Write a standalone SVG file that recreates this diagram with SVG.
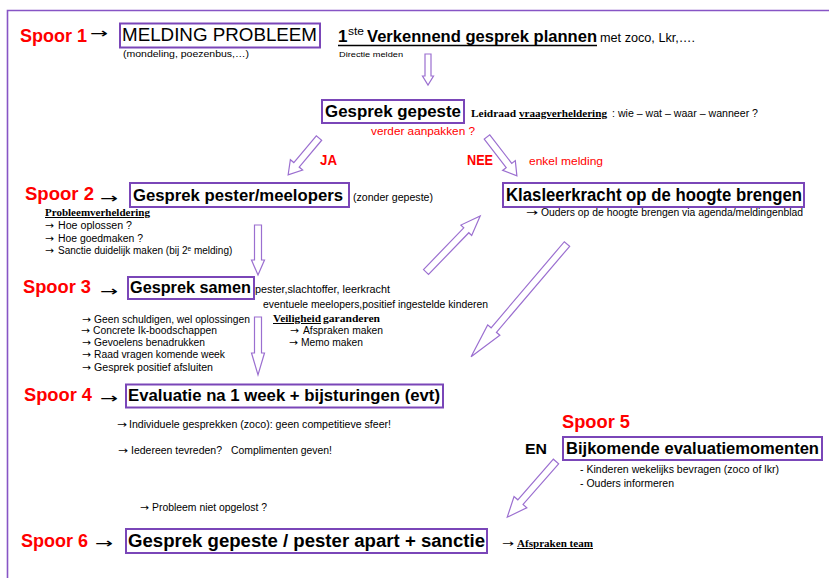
<svg xmlns="http://www.w3.org/2000/svg" width="829" height="578" viewBox="0 0 829 578">
<style>
.spoor{font-family:"Liberation Sans",Arial,sans-serif;font-weight:bold;font-size:18px;fill:#ff0000}
.red{font-family:"Liberation Sans",Arial,sans-serif;fill:#ff0000}
.box{fill:#ffffff;stroke:#7a46b8;stroke-width:2}
.title{font-family:"Liberation Sans",Arial,sans-serif;font-weight:bold;font-size:17px;fill:#000000}
.sm{font-family:"Liberation Sans",Arial,sans-serif;font-size:10px;fill:#000000}
.ser{font-family:"Liberation Serif","Times New Roman",serif;font-weight:bold;font-size:10px;fill:#000000}
.ptr{font-family:"DejaVu Sans",sans-serif;font-size:14px;fill:#000000}
.sa{font-family:"DejaVu Sans",sans-serif;font-size:10px;fill:#000000}
.arr{fill:#ffffff;stroke:#9b6fd0;stroke-width:1.2;stroke-linejoin:miter}
.ul{text-decoration:underline}
</style>

<path d="M7.5,578 V10.5 H829" fill="none" stroke="#8755c5" stroke-width="1.6"/>

<g id="connectors">
  <path class="arr" d="M425,54 H431 V76 H433.5 L428,85 L422.5,76 H425 Z"/>
  <path class="arr" transform="translate(319,138) rotate(130)" d="M0,-3.5 H35 V-8 L48,0 L35,8 V3.5 H0 Z"/>
  <path class="arr" transform="translate(487,137) rotate(52.4)" d="M0,-3.5 H36 V-8 L49,0 L36,8 V3.5 H0 Z"/>
  <path class="arr" d="M254.5,225 H261.5 V260 H264.5 L258,275 L251.5,260 H254.5 Z"/>
  <path class="arr" d="M254.5,317 H261.5 V353 H264.5 L258,375 L251.5,353 H254.5 Z"/>
  <path class="arr" transform="translate(426,272) rotate(-46)" d="M0,-3.5 H58 V-7.5 L78,0 L58,7.5 V3.5 H0 Z"/>
  <path class="arr" transform="translate(567,244) rotate(130.4)" d="M0,-3.5 H113 V-8 L148,0 L113,8 V3.5 H0 Z"/>
  <path class="arr" transform="translate(556,461.5) rotate(131.2)" d="M0,-3.5 H54 V-8.5 L74,0 L54,8.5 V3.5 H0 Z"/>
</g>

<g id="spoor1">
  <text class="spoor" x="20" y="42" textLength="67" lengthAdjust="spacingAndGlyphs">Spoor 1</text>
  <text class="ptr" x="90" y="38" textLength="18" lengthAdjust="spacingAndGlyphs">→</text>
  <rect class="box" x="120" y="23.5" width="200" height="24"/>
  <text x="122" y="41" font-family="Liberation Sans, Arial, sans-serif" font-size="18" textLength="195" lengthAdjust="spacingAndGlyphs">MELDING PROBLEEM</text>
  <text class="sm" x="123" y="57" style="font-size:9.5px" textLength="126" lengthAdjust="spacingAndGlyphs">(mondeling, poezenbus,…)</text>
</g>

<g id="verkennend-gesprek">
  <text class="title" x="338" y="42">1</text>
  <text class="title" x="348" y="35" style="font-size:10px;font-weight:normal" textLength="16" lengthAdjust="spacingAndGlyphs">ste</text>
  <text class="title" x="367" y="42" textLength="230" lengthAdjust="spacingAndGlyphs">Verkennend gesprek plannen</text>
  <line x1="338" y1="45.5" x2="597" y2="45.5" stroke="#000" stroke-width="1.3"/>
  <text class="sm" x="600" y="42" style="font-size:12px" textLength="95" lengthAdjust="spacingAndGlyphs">met zoco, Lkr,….</text>
  <text class="sm" x="339" y="57" style="font-size:8px" textLength="64" lengthAdjust="spacingAndGlyphs">Directie melden</text>
</g>

<g id="gesprek-gepeste">
  <rect class="box" x="322" y="100" width="142" height="23"/>
  <text class="title" x="325" y="117" textLength="136" lengthAdjust="spacingAndGlyphs">Gesprek gepeste</text>
  <text class="ser" x="471" y="117" textLength="45" lengthAdjust="spacingAndGlyphs">Leidraad</text>
  <text class="ser ul" x="519" y="117" textLength="88" lengthAdjust="spacingAndGlyphs">vraagverheldering</text>
  <text class="sm" x="612" y="117" textLength="146" lengthAdjust="spacingAndGlyphs">: wie  – wat – waar – wanneer ?</text>
  <text class="red" x="371" y="135" font-size="11" textLength="104" lengthAdjust="spacingAndGlyphs">verder aanpakken ?</text>
</g>

<g id="labels">
  <text class="red" x="320" y="165" font-size="14" font-weight="bold" textLength="17" lengthAdjust="spacingAndGlyphs">JA</text>
  <text class="red" x="467" y="165" font-size="14" font-weight="bold" textLength="26" lengthAdjust="spacingAndGlyphs">NEE</text>
  <text class="red" x="529" y="165" font-size="11" textLength="74" lengthAdjust="spacingAndGlyphs">enkel melding</text>
</g>

<g id="spoor2">
  <text class="spoor" x="25" y="200" textLength="69" lengthAdjust="spacingAndGlyphs">Spoor 2</text>
  <text class="ptr" x="100" y="203" textLength="18" lengthAdjust="spacingAndGlyphs">→</text>
  <rect class="box" x="130" y="183" width="219" height="24"/>
  <text class="title" x="133" y="201" textLength="210" lengthAdjust="spacingAndGlyphs">Gesprek pester/meelopers</text>
  <text class="sm" x="353" y="201" textLength="80" lengthAdjust="spacingAndGlyphs">(zonder gepeste)</text>
  <text class="ser ul" x="45" y="216" textLength="105" lengthAdjust="spacingAndGlyphs">Probleemverheldering</text>
  <text class="sa" x="45" y="229" textLength="9" lengthAdjust="spacingAndGlyphs">→</text>
  <text class="sm" x="58" y="229" textLength="74" lengthAdjust="spacingAndGlyphs">Hoe oplossen ?</text>
  <text class="sa" x="45" y="241.5" textLength="9" lengthAdjust="spacingAndGlyphs">→</text>
  <text class="sm" x="58" y="241.5" textLength="85" lengthAdjust="spacingAndGlyphs">Hoe goedmaken ?</text>
  <text class="sa" x="45" y="253.5" textLength="9" lengthAdjust="spacingAndGlyphs">→</text>
  <text class="sm" x="58" y="253.5">Sanctie duidelijk maken (bij 2<tspan dy="-3" style="font-size:6.5px">e</tspan><tspan dy="3"> melding)</tspan></text>
</g>

<g id="klasleerkracht">
  <rect class="box" x="503" y="183" width="301" height="24"/>
  <text class="title" x="506" y="201" style="font-size:18px" textLength="296" lengthAdjust="spacingAndGlyphs">Klasleerkracht op de hoogte brengen</text>
  <text class="sa" x="526" y="216" textLength="12" lengthAdjust="spacingAndGlyphs">→</text>
  <text class="sm" x="541" y="216" textLength="262" lengthAdjust="spacingAndGlyphs">Ouders  op de hoogte brengen  via agenda/meldingenblad</text>
</g>

<g id="spoor3">
  <text class="spoor" x="23" y="293" textLength="68" lengthAdjust="spacingAndGlyphs">Spoor 3</text>
  <text class="ptr" x="100" y="296" textLength="18" lengthAdjust="spacingAndGlyphs">→</text>
  <rect class="box" x="128" y="277" width="126" height="22"/>
  <text class="title" x="130" y="293" textLength="121" lengthAdjust="spacingAndGlyphs">Gesprek samen</text>
  <text class="sm" x="255" y="293" textLength="135" lengthAdjust="spacingAndGlyphs">pester,slachtoffer, leerkracht</text>
  <text class="sm" x="263" y="308" textLength="225" lengthAdjust="spacingAndGlyphs">eventuele meelopers,positief ingestelde kinderen</text>
  <text class="sa" x="82" y="322.5" textLength="9" lengthAdjust="spacingAndGlyphs">→</text>
  <text class="sm" x="94" y="322.5" textLength="156" lengthAdjust="spacingAndGlyphs">Geen schuldigen, wel oplossingen</text>
  <text class="sa" x="81" y="334" textLength="9" lengthAdjust="spacingAndGlyphs">→</text>
  <text class="sm" x="93" y="334" textLength="124" lengthAdjust="spacingAndGlyphs">Concrete Ik-boodschappen</text>
  <text class="sa" x="82" y="346" textLength="9" lengthAdjust="spacingAndGlyphs">→</text>
  <text class="sm" x="94" y="346" textLength="111" lengthAdjust="spacingAndGlyphs">Gevoelens benadrukken</text>
  <text class="sa" x="82" y="358" textLength="9" lengthAdjust="spacingAndGlyphs">→</text>
  <text class="sm" x="94" y="358" textLength="131" lengthAdjust="spacingAndGlyphs">Raad vragen komende week</text>
  <text class="sa" x="82" y="370.5" textLength="9" lengthAdjust="spacingAndGlyphs">→</text>
  <text class="sm" x="94" y="370.5" textLength="119" lengthAdjust="spacingAndGlyphs">Gesprek positief afsluiten</text>
  <text class="ser ul" x="273" y="322" textLength="48" lengthAdjust="spacingAndGlyphs">Veiligheid</text>
  <text class="ser" x="323" y="322" textLength="57" lengthAdjust="spacingAndGlyphs">garanderen</text>
  <text class="sa" x="290" y="334" textLength="9" lengthAdjust="spacingAndGlyphs">→</text>
  <text class="sm" x="303" y="334" textLength="80" lengthAdjust="spacingAndGlyphs">Afspraken maken</text>
  <text class="sa" x="289" y="346" textLength="9" lengthAdjust="spacingAndGlyphs">→</text>
  <text class="sm" x="301" y="346" textLength="62" lengthAdjust="spacingAndGlyphs">Memo maken</text>
</g>

<g id="spoor4">
  <text class="spoor" x="24" y="401" textLength="68" lengthAdjust="spacingAndGlyphs">Spoor 4</text>
  <text class="ptr" x="100" y="403" textLength="18" lengthAdjust="spacingAndGlyphs">→</text>
  <rect class="box" x="126" y="384.5" width="317" height="23"/>
  <text class="title" x="128" y="401" textLength="312" lengthAdjust="spacingAndGlyphs">Evaluatie na 1 week + bijsturingen (evt)</text>
  <text class="sa" x="117" y="428" textLength="10" lengthAdjust="spacingAndGlyphs">→</text>
  <text class="sm" x="129" y="428" textLength="262" lengthAdjust="spacingAndGlyphs">Individuele gesprekken (zoco): geen competitieve sfeer!</text>
  <text class="sa" x="118" y="454" textLength="10" lengthAdjust="spacingAndGlyphs">→</text>
  <text class="sm" x="131" y="454" textLength="91" lengthAdjust="spacingAndGlyphs">Iedereen tevreden?</text>
  <text class="sm" x="231" y="454" textLength="101" lengthAdjust="spacingAndGlyphs">Complimenten geven!</text>
</g>

<g id="spoor5">
  <text class="spoor" x="562" y="428" textLength="68" lengthAdjust="spacingAndGlyphs">Spoor 5</text>
  <text x="525" y="454" font-family="Liberation Sans, Arial, sans-serif" font-weight="bold" font-size="15" textLength="22" lengthAdjust="spacingAndGlyphs">EN</text>
  <rect class="box" x="563" y="437" width="259" height="23"/>
  <text class="title" x="566" y="454" textLength="253" lengthAdjust="spacingAndGlyphs">Bijkomende evaluatiemomenten</text>
  <text class="sm" x="580" y="473" textLength="199" lengthAdjust="spacingAndGlyphs">- Kinderen wekelijks bevragen (zoco of lkr)</text>
  <text class="sm" x="580" y="487" textLength="94" lengthAdjust="spacingAndGlyphs">- Ouders informeren</text>
</g>

<g id="niet-opgelost">
  <text class="sa" x="140" y="511" textLength="9" lengthAdjust="spacingAndGlyphs">→</text>
  <text class="sm" x="152" y="511" textLength="115" lengthAdjust="spacingAndGlyphs">Probleem niet opgelost ?</text>
</g>

<g id="spoor6">
  <text class="spoor" x="21" y="547" textLength="67" lengthAdjust="spacingAndGlyphs">Spoor 6</text>
  <text class="ptr" x="95" y="548" textLength="18" lengthAdjust="spacingAndGlyphs">→</text>
  <rect class="box" x="126" y="529" width="361" height="24"/>
  <text class="title" x="128" y="547" style="font-size:18px" textLength="357" lengthAdjust="spacingAndGlyphs">Gesprek gepeste / pester apart + sanctie</text>
  <text class="sa" x="502" y="547" textLength="12" lengthAdjust="spacingAndGlyphs">→</text>
  <text class="ser ul" x="517" y="547" textLength="76" lengthAdjust="spacingAndGlyphs">Afspraken team</text>
</g>
</svg>
